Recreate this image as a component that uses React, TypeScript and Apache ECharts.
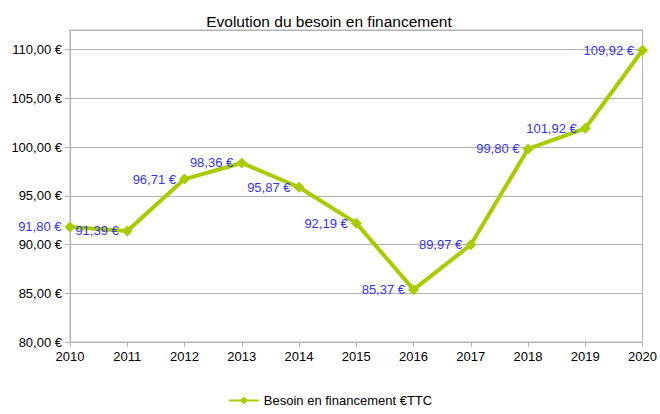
import React, { useEffect, useRef } from "react";
import * as echarts from "echarts";

const years = ["2010", "2011", "2012", "2013", "2014", "2015", "2016", "2017", "2018", "2019", "2020"];
const besoin = [91.8, 91.39, 96.71, 98.36, 95.87, 92.19, 85.37, 89.97, 99.8, 101.92, 109.92];
const seriesName = "Besoin en financement €TTC";
const titleText = "Evolution du besoin en financement";

const FONT = "'Liberation Sans Narrow', 'Liberation Sans', sans-serif";
const fmt = (v: number) => v.toFixed(2).replace(".", ",") + " €";

export default function App() {
  const ref = useRef<HTMLDivElement>(null);
  useEffect(() => {
    if (!ref.current) return;
    const chart = echarts.init(ref.current, null, { renderer: "svg" });
    chart.setOption({
      animation: false,
      backgroundColor: "#ffffff",
      textStyle: { fontFamily: FONT },
      title: {
        text: titleText,
        left: 324,
        textAlign: "center",
        top: 8,
        textStyle: { fontFamily: FONT, fontSize: 15.5, fontWeight: "normal", color: "#000000" },
      },
      legend: {
        bottom: 2,
        left: "center",
        itemWidth: 30,
        itemHeight: 10,
        itemGap: 10,
        textStyle: { fontFamily: FONT, fontSize: 13, color: "#000000" },
        data: [seriesName],
      },
      grid: {
        left: 70,
        right: 12,
        top: 30,
        bottom: 72,
        show: true,
        borderColor: "#b3b3b3",
        borderWidth: 1,
        backgroundColor: "transparent",
      },
      xAxis: {
        type: "category",
        data: years,
        boundaryGap: false,
        axisLine: { lineStyle: { color: "#b3b3b3" } },
        axisTick: { show: true, length: 5, lineStyle: { color: "#b3b3b3" }, alignWithLabel: true },
        axisLabel: { fontFamily: FONT, fontSize: 13, color: "#000000", margin: 8 },
        splitLine: { show: false },
      },
      yAxis: {
        type: "value",
        min: 80,
        max: 112,
        interval: 5,
        axisLine: { show: true, lineStyle: { color: "#b3b3b3" } },
        axisTick: { show: true, length: 5, lineStyle: { color: "#b3b3b3" } },
        axisLabel: {
          fontFamily: FONT,
          fontSize: 13,
          color: "#000000",
          margin: 8,
          showMaxLabel: false,
          formatter: (v: number) => (Math.abs(v % 5) < 1e-6 ? fmt(v) : ""),
        },
        splitLine: { show: true, lineStyle: { color: "#b3b3b3" } },
      },
      series: [
        {
          name: seriesName,
          type: "line",
          data: besoin,
          color: "#a8cc00",
          lineStyle: { width: 4, color: "#a8cc00" },
          itemStyle: { color: "#a8cc00" },
          symbol: "diamond",
          symbolSize: 11,
          label: {
            show: true,
            position: "left",
            distance: 3,
            fontFamily: FONT,
            fontSize: 13,
            color: "#3333ff",
            formatter: (p: any) => fmt(p.value),
          },
        },
      ],
    });
    return () => chart.dispose();
  }, []);
  return <div ref={ref} style={{ position: "fixed", left: 0, top: 0, width: 660, height: 414 }} />;
}
